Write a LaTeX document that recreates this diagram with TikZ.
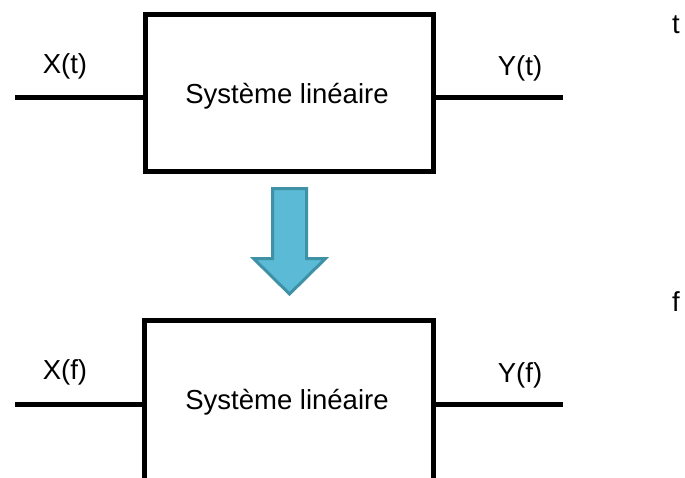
\documentclass[tikz,border=0pt]{standalone}
\usepackage{fontspec}
\setmainfont{Liberation Sans}
\definecolor{arrowfill}{HTML}{5BBAD5}
\definecolor{arrowline}{HTML}{3F92A6}
\begin{document}
\begin{tikzpicture}[x=1pt,y=-1pt,
  wire/.style={line width=5pt},
  sysbox/.style={draw,line width=5pt,minimum width=288pt,minimum height=157pt,inner sep=0pt},
  txt/.style={font=\fontsize{27.5pt}{32pt}\selectfont,inner sep=0pt,anchor=base},
  bigarrow/.style={fill=arrowfill,draw=arrowline,line width=3pt,line join=miter}]
\useasboundingbox (0,0) rectangle (685,477);
% top system
\node[sysbox] (box1) at (289,92.5) {};
\node[txt] (lab1) at (287,103) {Système linéaire};
\coordinate (in1) at (15,97);
\coordinate (out1) at (563,97);
\draw[wire] (in1) -- (in1 -| box1.west);
\draw[wire] (box1.east |- out1) -- (out1);
\node[txt] (x1) at (65,73) {X(t)};
\node[txt] (y1) at (520,75) {Y(t)};
\node[txt] (t) at (676,33) {t};
% big arrow
\draw[bigarrow] (272.5,188.5) -- (306.5,188.5) -- (306.5,258.5) -- (325.5,258.5)
  -- (289.5,294) -- (253.5,258.5) -- (272.5,258.5) -- cycle;
% bottom system (open at the bottom)
\node[inner sep=0pt,minimum width=288pt,minimum height=162pt] (box2) at (289,402) {};
\draw[line width=5pt] (box2.south west) -- (box2.north west) -- (box2.north east) -- (box2.south east);
\node[txt] (lab2) at (287,409) {Système linéaire};
\coordinate (in2) at (15,404);
\coordinate (out2) at (563,404);
\draw[wire] (in2) -- (in2 -| box2.west);
\draw[wire] (box2.east |- out2) -- (out2);
\node[txt] (x2) at (65,379) {X(f)};
\node[txt] (y2) at (520,382) {Y(f)};
\node[txt] (f) at (676,311) {f};
\end{tikzpicture}
\end{document}
